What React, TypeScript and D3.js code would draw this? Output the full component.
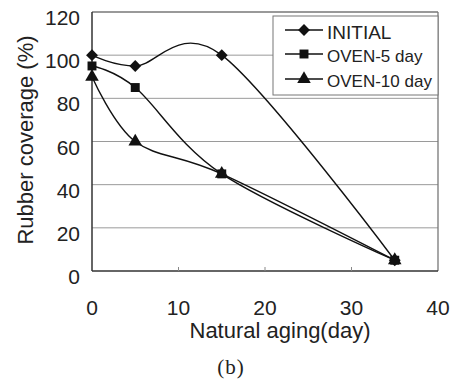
import * as d3 from "d3";
import React, { useEffect, useRef } from "react";

// values
const days = [0, 5, 15, 35];
const initial = [100, 95, 100, 5];
const oven5 = [95, 85, 45, 5];
const oven10 = [90, 60, 45, 5];
const seriesNames = ["INITIAL", "OVEN-5 day", "OVEN-10 day"];
const xTicks = [0, 10, 20, 30, 40];
const yTicks = [0, 20, 40, 60, 80, 100, 120];

const App = () => {
  const svgRef = useRef<SVGSVGElement>(null);

  useEffect(() => {
    const svg = d3.select(svgRef.current);
    svg.selectAll("*").remove();

    const W = 458;
    const H = 380;
    const left = 92, right = 438, top = 12, bottom = 271;

    svg.attr("width", W).attr("height", H);
    svg.append("rect").attr("width", W).attr("height", H).attr("fill", "#fff");

    const x = d3.scaleLinear().domain([0, 40]).range([left, right]);
    const y = d3.scaleLinear().domain([0, 120]).range([bottom, top]);

    const font = "Arial, 'Liberation Sans', sans-serif";

    // gridlines
    svg
      .append("g")
      .selectAll("line")
      .data(yTicks.filter((t) => t > 0 && t < 120))
      .join("line")
      .attr("x1", left)
      .attr("x2", right)
      .attr("y1", (d) => y(d))
      .attr("y2", (d) => y(d))
      .attr("stroke", "#9a9a9a")
      .attr("stroke-width", 1);

    // frame
    svg.append("line").attr("x1", left).attr("x2", right).attr("y1", top).attr("y2", top)
      .attr("stroke", "#777").attr("stroke-width", 1.3);
    svg.append("line").attr("x1", right).attr("x2", right).attr("y1", top).attr("y2", bottom)
      .attr("stroke", "#777").attr("stroke-width", 1.3);
    svg.append("line").attr("x1", left).attr("x2", left).attr("y1", top).attr("y2", bottom)
      .attr("stroke", "#333").attr("stroke-width", 1.5);
    svg.append("line").attr("x1", left).attr("x2", right).attr("y1", bottom).attr("y2", bottom)
      .attr("stroke", "#333").attr("stroke-width", 1.5);

    // small inner ticks on x axis
    svg
      .append("g")
      .selectAll("line")
      .data(xTicks.filter((t) => t > 0 && t < 40))
      .join("line")
      .attr("x1", (d) => x(d))
      .attr("x2", (d) => x(d))
      .attr("y1", bottom)
      .attr("y2", bottom - 4)
      .attr("stroke", "#888");

    // tick labels
    svg
      .append("g")
      .selectAll("text")
      .data(yTicks)
      .join("text")
      .attr("x", 80)
      .attr("y", (d) => y(d) + 13)
      .attr("text-anchor", "end")
      .attr("font-family", font)
      .attr("font-size", 21)
      .attr("fill", "#222")
      .text((d) => d);

    svg
      .append("g")
      .selectAll("text")
      .data(xTicks)
      .join("text")
      .attr("x", (d) => x(d))
      .attr("y", 315)
      .attr("text-anchor", "middle")
      .attr("font-family", font)
      .attr("font-size", 21)
      .attr("fill", "#222")
      .text((d) => d);

    // axis titles
    svg.append("text")
      .attr("x", 280)
      .attr("y", 338)
      .attr("text-anchor", "middle")
      .attr("font-family", font)
      .attr("font-size", 22)
      .attr("fill", "#222")
      .text("Natural aging(day)");

    svg.append("text")
      .attr("transform", "translate(33,140) rotate(-90)")
      .attr("text-anchor", "middle")
      .attr("font-family", font)
      .attr("font-size", 22)
      .attr("fill", "#222")
      .text("Rubber coverage (%)");

    svg.append("text")
      .attr("x", 231)
      .attr("y", 374)
      .attr("text-anchor", "middle")
      .attr("font-family", "'Liberation Serif', 'DejaVu Serif', serif")
      .attr("font-size", 21)
      .attr("letter-spacing", 1)
      .attr("fill", "#222")
      .text("(b)");

    // series
    const allSeries = [initial, oven5, oven10];
    const symbols = [d3.symbolDiamond2, d3.symbolSquare, d3.symbolTriangle];
    const sizes = [90, 80, 80];

    const line = d3
      .line<number>()
      .x((_, i) => x(days[i]))
      .y((d) => y(d))
      .curve(d3.curveCatmullRom.alpha(0));

    allSeries.forEach((vals) => {
      svg.append("path")
        .attr("d", line(vals))
        .attr("fill", "none")
        .attr("stroke", "#111")
        .attr("stroke-width", 1.4);
    });

    allSeries.forEach((vals, s) => {
      const sym = d3.symbol(symbols[s], sizes[s]);
      svg
        .append("g")
        .selectAll("path")
        .data(vals)
        .join("path")
        .attr("d", sym)
        .attr("transform", (d, i) => `translate(${x(days[i])},${y(d)})`)
        .attr("fill", "#111");
    });

    // legend
    const lg = svg.append("g");
    lg.append("rect")
      .attr("x", 273)
      .attr("y", 16)
      .attr("width", right - 273)
      .attr("height", 79)
      .attr("fill", "#fff")
      .attr("stroke", "#777")
      .attr("stroke-width", 1);

    const rowsY = [30, 54, 79];
    seriesNames.forEach((name, s) => {
      const ry = rowsY[s];
      lg.append("line")
        .attr("x1", 285)
        .attr("x2", 323)
        .attr("y1", ry)
        .attr("y2", ry)
        .attr("stroke", "#111")
        .attr("stroke-width", 1.4);
      lg.append("path")
        .attr("d", d3.symbol(symbols[s], sizes[s])())
        .attr("transform", `translate(304,${ry})`)
        .attr("fill", "#111");
      lg.append("text")
        .attr("x", 327)
        .attr("y", ry + (s === 0 ? 9 : 8))
        .attr("font-family", font)
        .attr("font-size", s === 0 ? 19 : 17)
        .attr("fill", "#222")
        .text(name);
    });
  }, []);

  return (
    <svg
      ref={svgRef}
      style={{ position: "absolute", left: 0, top: 0, display: "block" }}
    ></svg>
  );
};

export default App;
